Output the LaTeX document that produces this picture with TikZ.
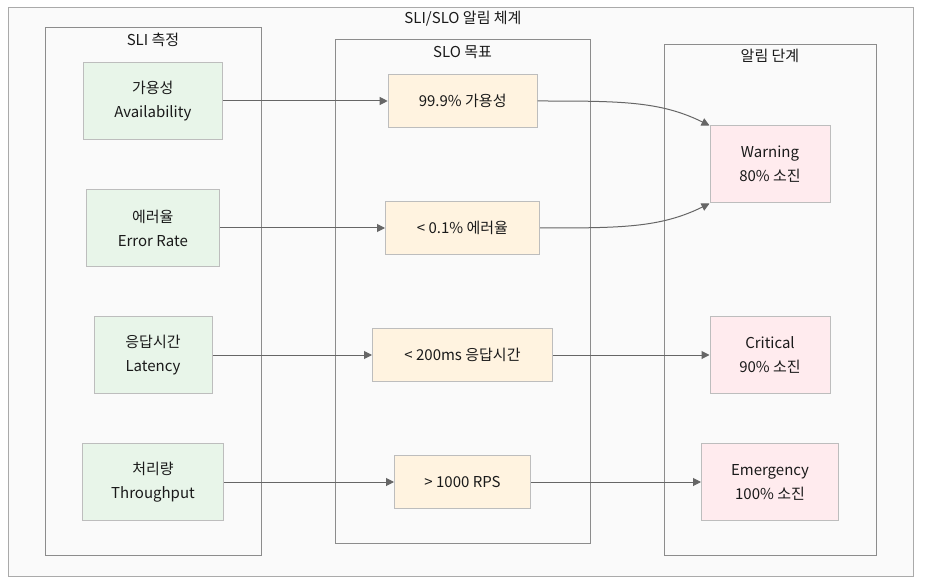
\documentclass[tikz,border=0pt]{standalone}
\usepackage{fontspec}
\setmainfont{Noto Sans CJK KR}
\usetikzlibrary{arrows.meta}
\definecolor{slifill}{HTML}{E8F5E9}
\definecolor{slofill}{HTML}{FFF3E0}
\definecolor{alfill}{HTML}{FFEBEE}
\definecolor{nodeborder}{HTML}{BDBDBD}
\definecolor{grpborder}{HTML}{8C8C8C}
\definecolor{outborder}{HTML}{AAAAAA}
\definecolor{grpfill}{HTML}{FAFAFA}
\definecolor{edgecol}{HTML}{666666}
\definecolor{txt}{HTML}{1A1A1A}
\tikzset{
  box/.style={draw=nodeborder, line width=1pt, align=center, text=txt,
    font=\fontsize{15}{24}\selectfont, inner sep=0pt},
  slibox/.style={box, fill=slifill, minimum height=77pt},
  slobox/.style={box, fill=slofill, minimum height=53pt},
  albox/.style={box, fill=alfill, minimum height=77pt},
  grp/.style={draw=grpborder, line width=1pt, fill=grpfill},
  grptitle/.style={text=txt, font=\fontsize{15}{16}\selectfont, inner sep=0pt},
  conn/.style={draw=edgecol, line width=1pt, -{Triangle[length=8pt,width=8pt]}},
}
\begin{document}
\begin{tikzpicture}[x=1pt,y=-1pt]
\useasboundingbox (0,0) rectangle (929,588);
\fill[white] (0,0) rectangle (929,588);
% outer
\draw[draw=outborder, line width=1pt, fill=grpfill] (8,8) rectangle (913,576);
\node[grptitle] (outtitle) at (463,19) {SLI/SLO 알림 체계};
% groups
\draw[grp] (45,27.5) rectangle (261,555);
\node[grptitle] (slititle) at (153,40) {SLI 측정};
\draw[grp] (335,39.5) rectangle (590,543);
\node[grptitle] (slotitle) at (462.5,52) {SLO 목표};
\draw[grp] (664,44.5) rectangle (876,555);
\node[grptitle] (altitle) at (770,56) {알림 단계};
% SLI nodes
\node[slibox, minimum width=139pt] (avail) at (152.8,101) {가용성\\Availability};
\node[slibox, minimum width=133pt] (err) at (152.8,228) {에러율\\Error Rate};
\node[slibox, minimum width=118pt] (lat) at (153,355) {응답시간\\Latency};
\node[slibox, minimum width=141pt] (thr) at (153,482) {처리량\\Throughput};
% SLO nodes
\node[slobox, minimum width=149pt] (s1) at (462.7,101) {99.9\% 가용성};
\node[slobox, minimum width=154pt] (s2) at (462.5,228) {< 0.1\% 에러율};
\node[slobox, minimum width=180pt] (s3) at (462.5,355) {< 200ms 응답시간};
\node[slobox, minimum width=136pt] (s4) at (462.5,482) {> 1000 RPS};
% Alert nodes
\node[albox, minimum width=120pt] (warn) at (770,164.5) {Warning\\80\% 소진};
\node[albox, minimum width=120pt] (crit) at (770,355) {Critical\\90\% 소진};
\node[albox, minimum width=137pt] (emer) at (770,482) {Emergency\\100\% 소진};
% edges
\draw[conn] (avail) -- (s1);
\draw[conn] (err) -- (s2);
\draw[conn] (lat) -- (s3);
\draw[conn] (thr) -- (s4);
\draw[conn] (s1.east) .. controls (620,101) and (660,101) .. (warn.north west);
\draw[conn] (s2.east) .. controls (620,228) and (660,228) .. (warn.south west);
\draw[conn] (s3) -- (crit);
\draw[conn] (s4) -- (emer);
\end{tikzpicture}
\end{document}
